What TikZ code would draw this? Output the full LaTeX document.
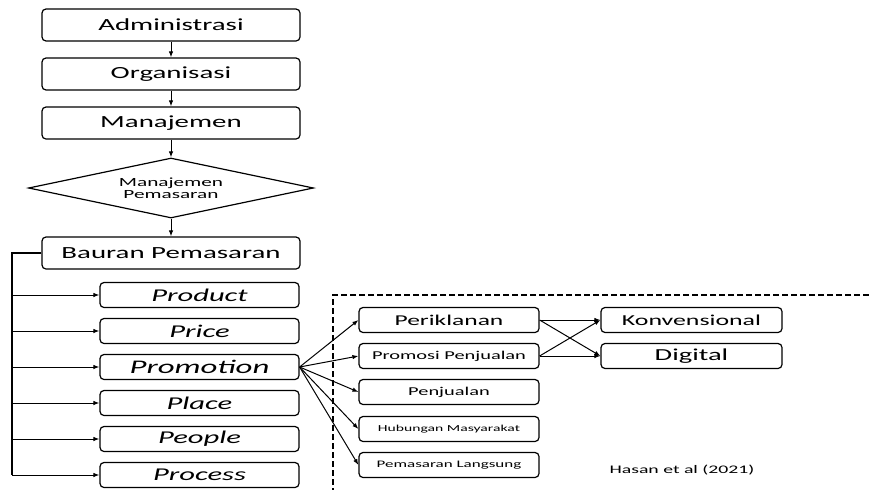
\documentclass[tikz,border=0pt]{standalone}
\usepackage{fontspec}
\setmainfont{Carlito}[FakeStretch=1.7]
\usetikzlibrary{shapes.geometric,arrows.meta}

\begin{document}
\begin{tikzpicture}[x=1pt, y=-1pt,
	kotak/.style={draw, line width=1.2pt, rounded corners=4pt, inner sep=0pt},
	besar/.style={kotak, minimum width=258pt, minimum height=32pt, font=\fontsize{17}{20}\selectfont},
	bauran/.style={kotak, minimum width=199pt, minimum height=25pt, font=\fontsize{18}{20}\selectfont\itshape},
	alat/.style={kotak, minimum width=180pt, minimum height=25pt},
	media/.style={kotak, minimum width=181pt, minimum height=25pt},
	panah/.style={-{Latex[length=6pt, width=4.5pt]}, line width=1pt}]

	\useasboundingbox (0,0) rectangle (869,490);

	%alur atas
	\node [besar] (adm) at (171, 25) {Administrasi};
	\node [besar] (org) at (171, 74) {Organisasi};
	\node [besar] (man) at (171, 123) {Manajemen};
	\node [draw, line width=1.2pt, diamond, aspect=4.7, minimum width=285pt, minimum height=60pt, inner sep=0pt,
		align=center, font=\fontsize{12.5}{12.5}\selectfont] (manpem) at (171, 188) {Manajemen\\Pemasaran};
	\node [besar] (baur) at (171, 253) {Bauran Pemasaran};

	\draw [panah] (adm) -- (org);
	\draw [panah] (org) -- (man);
	\draw [panah] (man) -- (manpem);
	\draw [panah] (manpem) -- (baur);

	%bauran pemasaran
	\node [bauran] (prod) at (199.5, 295) {Product};
	\node [bauran] (price) at (199.5, 331) {Price};
	\node [bauran, font=\fontsize{19.3}{20}\selectfont\itshape] (promo) at (199.5, 367) {Promotion};
	\node [bauran] (place) at (199.5, 403) {Place};
	\node [bauran] (people) at (199.5, 439) {People};
	\node [bauran] (proc) at (199.5, 475) {Process};

	\coordinate (spine) at (12, 253);
	\draw [line width=1.5pt] (baur.west) -- (spine) -- (spine |- proc.west);
	\foreach \k in {prod, price, promo, place, people, proc}
	{
		\draw [panah] (spine |- \k.west) -- (\k.west);
	}

	%bauran promosi
	\draw [line width=1.8pt, dash pattern=on 6pt off 3pt] (869, 295) -- (333, 295) -- (333, 490);

	\node [alat, font=\fontsize{15}{18}\selectfont] (iklan) at (449, 320) {Periklanan};
	\node [alat, font=\fontsize{12}{14}\selectfont] (prompj) at (449, 356) {Promosi Penjualan};
	\node [alat, font=\fontsize{12}{14}\selectfont] (penj) at (449, 392) {Penjualan};
	\node [alat, font=\fontsize{9.2}{11}\selectfont] (humas) at (449, 429) {Hubungan Masyarakat};
	\node [alat, font=\fontsize{10}{12}\selectfont] (langs) at (449, 465) {Pemasaran Langsung};

	\foreach \k in {iklan, prompj, penj, humas, langs}
	{
		\draw [panah] (promo.east) -- (\k.west);
	}

	\node [media, font=\fontsize{15.2}{18}\selectfont] (konv) at (691.5, 320) {Konvensional};
	\node [media, font=\fontsize{16.8}{20}\selectfont] (dig) at (691.5, 356) {Digital};

	\foreach \a in {iklan, prompj}
	{
		\draw [panah] (\a.east) -- (konv.west);
		\draw [panah] (\a.east) -- (dig.west);
	}

	\node [font=\fontsize{11.6}{14}\selectfont] (sumber) at (682, 470) {Hasan et al (2021)};

\end{tikzpicture}
\end{document}
